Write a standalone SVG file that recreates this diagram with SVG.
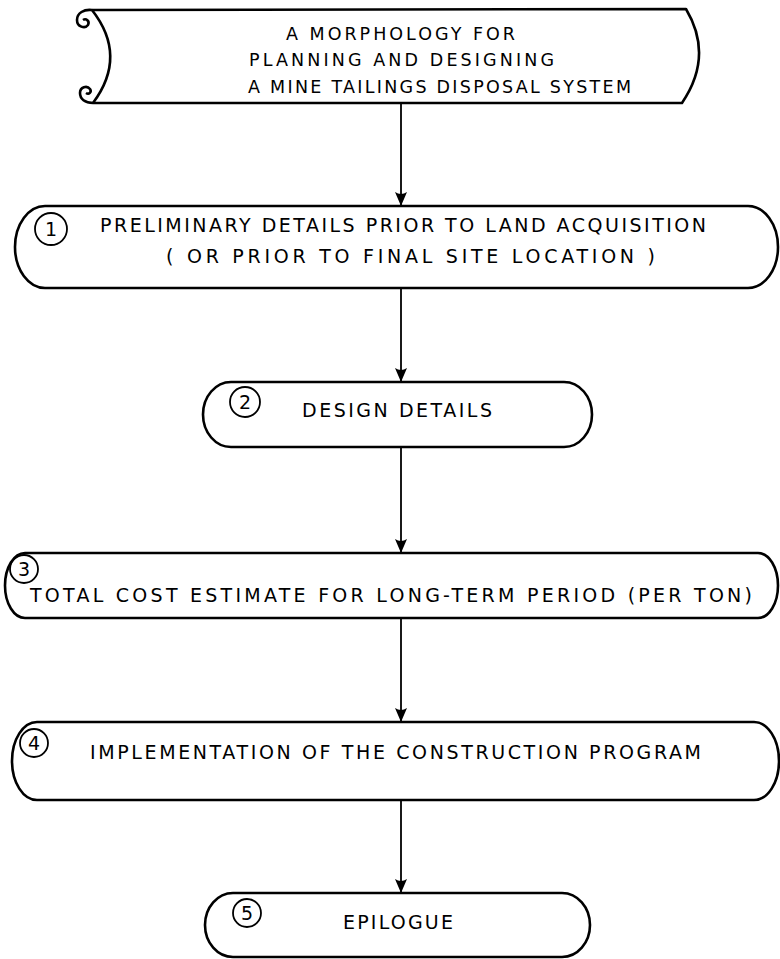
<svg xmlns="http://www.w3.org/2000/svg" width="780" height="959" viewBox="0 0 780 959">
  <style>
    .box { fill: none; stroke: #000; stroke-width: 2.6; stroke-linejoin: round; }
    .num { fill: none; stroke: #000; stroke-width: 1.8; }
    .lbl { font-family: "DejaVu Sans", "Liberation Sans", sans-serif; font-size: 19px; fill: #000; }
    .ttl { font-family: "DejaVu Sans", "Liberation Sans", sans-serif; font-size: 17.5px; fill: #000; }
    .dig { font-family: "DejaVu Sans", "Liberation Sans", sans-serif; font-size: 19px; fill: #000; text-anchor: middle; }
    .edge { fill: none; stroke: #000; stroke-width: 1.8; }
  </style>
  <defs>
    <!-- filled arrowhead with a slightly hollow back -->
    <marker id="arrow" markerUnits="userSpaceOnUse" markerWidth="16" markerHeight="14" refX="15" refY="7" orient="auto" viewBox="0 0 16 14">
      <path d="M1,1 Q5,7 1,13 L15,7 Z" fill="#000"/>
    </marker>
  </defs>
  <rect width="780" height="959" fill="#fff"/>

  <!-- title scroll -->
  <g id="title">
    <path class="box" d="M92,10 L686,9 Q714,56 682,103 L93,103"/>
    <path class="box" d="M92,10 Q128,56 93,103"/>
    <path class="box" d="M92,10 C84,9 77,13 77,20 C77,27 85,29 88,25 C90,21 86,18 83,20"/>
    <path class="box" d="M93,103 C85,103 80,99 80,93 C80,87 87,85 90,89 C92,92 89,95 86,93"/>
    <text class="ttl" x="286" y="40" textLength="229" lengthAdjust="spacing">A MORPHOLOGY FOR</text>
    <text class="ttl" x="249" y="66" textLength="305" lengthAdjust="spacing">PLANNING AND DESIGNING</text>
    <text class="ttl" x="248" y="93" textLength="383" lengthAdjust="spacing">A MINE TAILINGS DISPOSAL SYSTEM</text>
  </g>

  <!-- step 1 -->
  <g id="step1">
    <path class="box" d="M45,206 H748 A30,41 0 0 1 748,288 H45 A30,41 0 0 1 45,206 Z"/>
    <circle class="num" cx="51" cy="229" r="16"/>
    <text class="dig" x="51" y="236">1</text>
    <text class="lbl" x="100" y="232" textLength="606" lengthAdjust="spacing">PRELIMINARY DETAILS PRIOR TO LAND ACQUISITION</text>
    <text class="lbl" x="166" y="263" textLength="489" lengthAdjust="spacing">( OR PRIOR TO FINAL SITE LOCATION )</text>
  </g>

  <!-- step 2 -->
  <g id="step2">
    <path class="box" d="M231,382 H564 A28,32.5 0 0 1 564,447 H231 A28,32.5 0 0 1 231,382 Z"/>
    <circle class="num" cx="245" cy="402" r="15"/>
    <text class="dig" x="245" y="409">2</text>
    <text class="lbl" x="302" y="417" textLength="190" lengthAdjust="spacing">DESIGN DETAILS</text>
  </g>

  <!-- step 3 -->
  <g id="step3">
    <path class="box" d="M25,553 H758 A20,32.5 0 0 1 758,618 H25 A20,32.5 0 0 1 25,553 Z"/>
    <circle class="num" cx="24" cy="569" r="14"/>
    <text class="dig" x="24" y="576">3</text>
    <text class="lbl" x="30" y="602" textLength="722" lengthAdjust="spacing">TOTAL COST ESTIMATE FOR LONG-TERM PERIOD (PER TON)</text>
  </g>

  <!-- step 4 -->
  <g id="step4">
    <path class="box" d="M37,722 H754 A25,39 0 0 1 754,800 H37 A25,39 0 0 1 37,722 Z"/>
    <circle class="num" cx="34" cy="743" r="14"/>
    <text class="dig" x="34" y="750">4</text>
    <text class="lbl" x="90" y="759" textLength="611" lengthAdjust="spacing">IMPLEMENTATION OF THE CONSTRUCTION PROGRAM</text>
  </g>

  <!-- step 5 -->
  <g id="step5">
    <path class="box" d="M233,893 H562 A28,32 0 0 1 562,957 H233 A28,32 0 0 1 233,893 Z"/>
    <circle class="num" cx="247" cy="913" r="14"/>
    <text class="dig" x="247" y="920">5</text>
    <text class="lbl" x="343" y="929" textLength="110" lengthAdjust="spacing">EPILOGUE</text>
  </g>

  <!-- connectors -->
  <g id="connectors">
    <line class="edge" x1="401" y1="103" x2="401" y2="206" marker-end="url(#arrow)"/>
    <line class="edge" x1="401" y1="288" x2="401" y2="382" marker-end="url(#arrow)"/>
    <line class="edge" x1="401" y1="447" x2="401" y2="553" marker-end="url(#arrow)"/>
    <line class="edge" x1="401" y1="618" x2="401" y2="722" marker-end="url(#arrow)"/>
    <line class="edge" x1="401" y1="800" x2="401" y2="893" marker-end="url(#arrow)"/>
  </g>
</svg>
